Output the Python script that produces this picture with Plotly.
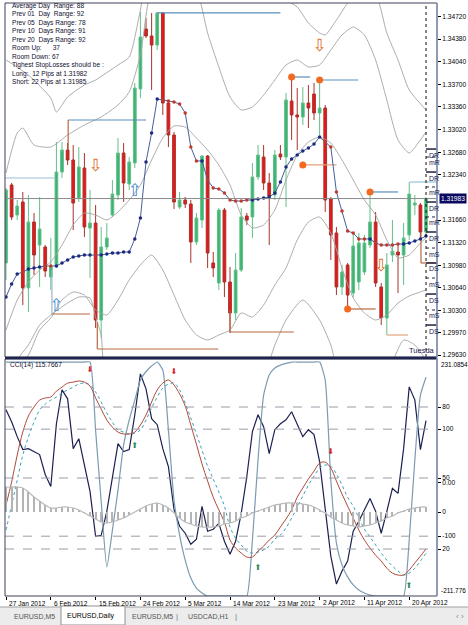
import plotly.graph_objects as go

# ---------------- data ----------------
tick_bars = [0, 8, 16, 24, 32, 40, 48, 56, 64, 72]
tick_labels = ["27 Jan 2012", "6 Feb 2012", "15 Feb 2012", "24 Feb 2012", "5 Mar 2012",
               "14 Mar 2012", "23 Mar 2012", "2 Apr 2012", "11 Apr 2012", "20 Apr 2012"]

opens = [1.31014, 1.32187, 1.31736, 1.31931, 1.30638, 1.31630, 1.31284, 1.31254, 1.30803, 1.30984,
         1.32382, 1.32713, 1.32563, 1.31991, 1.32442, 1.31540, 1.31615, 1.30156, 1.31254, 1.31736,
         1.32036, 1.32668, 1.32202, 1.32518, 1.33631, 1.34533, 1.34428, 1.34292, 1.34774, 1.33420,
         1.32939, 1.31856, 1.31961, 1.31901, 1.31330, 1.31660, 1.32623, 1.31014, 1.30713, 1.31811,
         1.30728, 1.30262, 1.30908, 1.31721, 1.31706, 1.32307, 1.32608, 1.32217, 1.32036, 1.32653,
         1.32608, 1.33450, 1.33240, 1.33210, 1.33420, 1.33555, 1.33270, 1.33345, 1.31976, 1.31465,
         1.30653, 1.30984, 1.30562, 1.30728, 1.30878, 1.31284, 1.31630, 1.30653, 1.30186, 1.31134,
         1.31179, 1.31134, 1.31435, 1.31886, 1.31886, 1.31480]
closes = [1.32112, 1.31706, 1.31871, 1.30638, 1.31630, 1.31134, 1.31525, 1.30893, 1.30954, 1.32382,
          1.32713, 1.32563, 1.31916, 1.32458, 1.31555, 1.31615, 1.30156, 1.31254, 1.31390, 1.32051,
          1.32668, 1.32217, 1.32533, 1.33646, 1.34413, 1.34428, 1.34292, 1.34774, 1.33420, 1.32939,
          1.31931, 1.31961, 1.31901, 1.31330, 1.31690, 1.32623, 1.31164, 1.30938, 1.31811, 1.30728,
          1.30262, 1.30908, 1.31706, 1.31660, 1.32307, 1.32638, 1.32217, 1.32021, 1.32638, 1.32608,
          1.33465, 1.33240, 1.33210, 1.33420, 1.33345, 1.33270, 1.33345, 1.31961, 1.31435, 1.30653,
          1.30878, 1.30532, 1.31269, 1.31314, 1.31314, 1.31630, 1.30713, 1.30186, 1.30984, 1.31194,
          1.31134, 1.31390, 1.32051, 1.31916, 1.31480, 1.31983]
highs = [1.32142, 1.32217, 1.31961, 1.32082, 1.32036, 1.31766, 1.32006, 1.31284, 1.31390, 1.32834,
         1.32834, 1.32818, 1.32788, 1.32758, 1.32668, 1.32112, 1.31886, 1.31555, 1.31615, 1.32262,
         1.32894, 1.32818, 1.32608, 1.33721, 1.34789, 1.34698, 1.34774, 1.34789, 1.34789, 1.33465,
         1.32984, 1.32082, 1.32006, 1.31961, 1.31766, 1.32638, 1.32638, 1.31179, 1.31841, 1.31841,
         1.30954, 1.31164, 1.31841, 1.31766, 1.32518, 1.32788, 1.32788, 1.32367, 1.32713, 1.32788,
         1.33570, 1.33796, 1.33646, 1.33661, 1.33691, 1.33721, 1.33766, 1.33390, 1.32006, 1.31555,
         1.30984, 1.31014, 1.31465, 1.31465, 1.31435, 1.32082, 1.31781, 1.30713, 1.31164, 1.31660,
         1.31284, 1.31615, 1.32232, 1.32036, 1.31916, 1.32006]
lows = [1.30758, 1.31660, 1.31660, 1.30382, 1.30277, 1.30833, 1.30653, 1.30803, 1.30608, 1.30938,
        1.32292, 1.32488, 1.31510, 1.31931, 1.31405, 1.30788, 1.30036, 1.29886, 1.31209, 1.31706,
        1.31961, 1.31931, 1.32112, 1.32442, 1.33495, 1.34398, 1.33616, 1.34217, 1.33240, 1.32758,
        1.31826, 1.31826, 1.31841, 1.31014, 1.31284, 1.31540, 1.30938, 1.30803, 1.30608, 1.30502,
        1.29961, 1.30156, 1.30878, 1.31585, 1.31390, 1.32262, 1.32112, 1.31284, 1.31961, 1.32563,
        1.31856, 1.32864, 1.32713, 1.33089, 1.33044, 1.33164, 1.32939, 1.31781, 1.31059, 1.30532,
        1.30532, 1.30307, 1.30502, 1.30608, 1.30833, 1.31239, 1.30653, 1.30081, 1.29931, 1.31029,
        1.30562, 1.30683, 1.31360, 1.31736, 1.31360, 1.31450]

ma_line = [1.30502, 1.30698, 1.30848, 1.30878, 1.30923, 1.30938, 1.30954, 1.30969, 1.30969, 1.30969,
           1.31014, 1.31059, 1.31104, 1.31119, 1.31134, 1.31134, 1.31134, 1.31134, 1.31149, 1.31164,
           1.31164, 1.31179, 1.31179, 1.31375, 1.31690, 1.32533, 1.32969, 1.33480, 1.33465, 1.33450,
           1.33435, 1.33405, 1.33270, 1.32758, 1.32548, 1.32548, 1.32262, 1.32142, 1.32127, 1.32066,
           1.31961, 1.31946, 1.31946, 1.31961, 1.31961, 1.31976, 1.31991, 1.32006, 1.32066, 1.32232,
           1.32458, 1.32578, 1.32638, 1.32698, 1.32743, 1.32803, 1.32909, 1.32834, 1.32758, 1.32082,
           1.31796, 1.31495, 1.31465, 1.31375, 1.31375, 1.31375, 1.31314, 1.31284, 1.31284, 1.31284,
           1.31299, 1.31299, 1.31314, 1.31345, 1.31375, 1.31420]

u2_bars = [0, 4, 8, 9, 11, 14, 16, 20, 22, 24, 26, 44, 48, 50, 52, 54, 56, 57, 59, 61, 63, 66, 68, 70, 72, 75]
u2_vals = [1.34067, 1.33841, 1.33495, 1.33285, 1.33510, 1.33691, 1.33766, 1.33992, 1.34112, 1.34819,
           1.35571, 1.35270, 1.35044, 1.34969, 1.34864, 1.34623, 1.34473, 1.34443, 1.34668, 1.34924,
           1.35120, 1.35044, 1.34473, 1.34067, 1.33616, 1.33315]
u1_bars = [0, 2, 3, 5, 8, 11, 14, 17, 20, 22, 24, 26, 30, 34, 36, 38, 40, 42, 44, 46, 48, 50, 52, 54,
           56, 58, 60, 62, 64, 66, 68, 70, 72, 74, 75]
u1_vals = [1.32367, 1.32969, 1.33044, 1.32788, 1.32758, 1.32939, 1.33089, 1.33210, 1.33390, 1.33586,
           1.34142, 1.35120, 1.35420, 1.35120, 1.34473, 1.33962, 1.33510, 1.33315, 1.33360, 1.33540,
           1.33766, 1.33992, 1.34067, 1.33962, 1.33992, 1.34217, 1.34443, 1.34563, 1.34443, 1.34067,
           1.33465, 1.32864, 1.32668, 1.32864, 1.32984]
mid_bars = [0, 2, 4, 6, 8, 10, 12, 14, 16, 18, 20, 22, 24, 26, 28, 30, 32, 34, 36, 38, 40, 42, 44, 46,
            48, 50, 52, 54, 56, 58, 60, 62, 64, 66, 68, 70, 72, 74, 75]
mid_vals = [1.30006, 1.30457, 1.30728, 1.30908, 1.31029, 1.31284, 1.31585, 1.31766, 1.31736, 1.31660,
            1.31781, 1.31961, 1.32187, 1.32563, 1.32894, 1.33074, 1.33059, 1.32894, 1.32713, 1.32488,
            1.32187, 1.31736, 1.31540, 1.31585, 1.31811, 1.32262, 1.32638, 1.32834, 1.32909, 1.32818,
            1.32563, 1.32262, 1.31961, 1.31736, 1.31360, 1.31089, 1.31134, 1.31314, 1.31390]
l1_bars = [0, 4, 6, 8, 10, 12, 14, 16, 18, 20, 22, 24, 26, 28, 30, 32, 34, 36, 38, 40, 42, 44, 46, 48,
           50, 52, 54, 56, 58, 60, 62, 64, 66, 68, 70, 72, 74, 75]
l1_vals = [1.29254, 1.29630, 1.30006, 1.30186, 1.30457, 1.30578, 1.30532, 1.30307, 1.30232, 1.30457,
           1.30758, 1.30984, 1.31134, 1.30908, 1.30532, 1.30156, 1.29931, 1.29856, 1.29931, 1.30006,
           1.30262, 1.30202, 1.30382, 1.30683, 1.30938, 1.31360, 1.31630, 1.31706, 1.31465, 1.30938,
           1.30487, 1.30262, 1.30156, 1.30232, 1.30412, 1.30517, 1.30578, 1.30608]
l2_bars = [0, 2, 4, 6, 8, 11, 13, 15, 16, 17, 18, 46, 48, 50, 53, 56, 58, 60, 68, 71, 73, 75]
l2_vals = [1.28953, 1.29555, 1.29780, 1.30081, 1.30232, 1.30412, 1.30502, 1.30487, 1.30202, 1.29931,
           1.29404, 1.29404, 1.29780, 1.30156, 1.30457, 1.30156, 1.29780, 1.29254, 1.29404, 1.29856,
           1.29780, 1.29555]

# support / resistance segments (bar from, bar to, price from, price to)
seg_x0 = [-0.3, 11.1, 27.0, 8.2, 16.3, 40.0, 51.0, 56.0, 53.0, 61.0, 65.0, 68.0, 72.1, 74.1, 11.1, 8.2, 16.3, 40.0, 74.1]
seg_x1 = [8.75, 25.0, 49.0, 15.0, 37.9, 51.4, 54.3, 62.9, 59.0, 66.0, 70.0, 71.8, 77.0, 77.0, 11.1, 8.2, 16.3, 40.0, 74.1]
seg_p0 = [1.32292, 1.33164, 1.34774, 1.30247, 1.29720, 1.29976, 1.33811, 1.33766, 1.32488, 1.30322,
          1.32082, 1.29931, 1.32232, 1.31014, 1.33164, 1.30908, 1.30126, 1.30307, 1.31480]
seg_p1 = [1.32292, 1.33164, 1.34774, 1.30247, 1.29720, 1.29976, 1.33811, 1.33766, 1.32488, 1.30322,
          1.32082, 1.29931, 1.32232, 1.31014, 1.32713, 1.30247, 1.29720, 1.29976, 1.31014]
seg_kind = ["r2", "r", "r", "s", "s", "s", "r", "r", "s2", "s", "r", "s2", "r2", "s", "s", "g", "s", "s", "s"]

dot_bars = [51, 56, 53, 61, 65]
dot_prices = [1.33811, 1.33766, 1.32488, 1.30322, 1.32082]
up_arrow_bars = [9, 23]
up_arrow_prices = [1.30352, 1.32082]
down_arrow_bars = [16, 56, 67]
down_arrow_prices = [1.32458, 1.34262, 1.30954]

pivot_prices = [1.32728, 1.32382, 1.31931, 1.31480, 1.31014, 1.30547, 1.30081,
                1.32608, 1.32157, 1.31706, 1.31239, 1.30788, 1.30307]
pivot_labels = ["DR", "DR", "DR", "DR", "DS", "DS", "DS", "mR", "mR", "mR", "mS", "mS", "mS"]
pivot_major = [True] * 7 + [False] * 6

price_ticks = [1.34720, 1.34380, 1.34040, 1.33700, 1.33360, 1.33020, 1.32680, 1.32340,
               1.31660, 1.31320, 1.30980, 1.30640, 1.30300, 1.29970, 1.29630]
price_tick_text = ["1.34720", "1.34380", "1.34040", "1.33700", "1.33360", "1.33020", "1.32680", "1.32340",
                   "1.31660", "1.31320", "1.30980", "1.30640", "1.30300", "1.29970", "1.29630"]
bid = 1.31983

info_lines = ["Average Day  Range: 88", "Prev 01  Day  Range: 92", "Prev 05  Days Range: 78",
              "Prev 10  Days Range: 91", "Prev 20  Days Range: 92", "Room Up:      37", "Room Down: 67",
              "Tighest StopLosses should be :", "Long:  12 Pips at 1.31982", "Short: 22 Pips at 1.31985"]

cci = [136.2, 113.9, 86.0, 61.8, 63.6, 58.0, 52.5, 15.2, -7.1, 110.1,
       173.4, 156.7, 63.6, 82.2, 30.1, -16.4, -100.1, -98.3, -53.6, 5.9,
       72.9, 58.0, 61.8, 126.9, 203.2, 175.3, 119.5, 108.3, 63.6, 30.1,
       -49.9, -81.5, -94.5, -115.0, -105.7, -44.3, -90.8, -87.1, -75.9, -109.4,
       -133.6, -109.4, -57.3, 11.5, 95.3, 126.9, 104.6, 54.3, 99.0, 110.1,
       117.6, 132.5, 110.1, 86.0, 99.0, 89.7, 39.4, -44.3, -137.3, -189.4,
       -165.3, -146.6, -90.8, -72.2, -49.9, -29.4, -53.6, -94.5, -53.6, -10.8,
       -20.1, 63.6, 179.0, 154.8, 61.8, 115.7667]
stoch_main = [38.6, 48.3, 59.7, 69.4, 76.2, 80.0, 82.9, 83.8, 84.2, 86.7,
              88.4, 90.1, 90.5, 91.0, 90.5, 88.8, 83.8, 79.1, 74.5, 71.5,
              69.4, 68.6, 68.6, 69.4, 72.4, 76.6, 82.1, 87.2, 90.1, 91.4,
              89.3, 85.5, 80.4, 72.4, 64.3, 55.9, 48.7, 41.9, 36.5, 31.4,
              23.8, 20.4, 18.3, 16.6, 16.6, 19.1, 21.2, 23.8, 25.9, 29.3,
              32.7, 36.5, 41.9, 45.8, 49.6, 52.9, 56.3, 56.7, 54.2, 48.7,
              43.2, 38.1, 33.1, 28.0, 23.8, 20.4, 17.4, 14.9, 11.9, 9.8,
              9.0, 9.0, 11.1, 14.1, 17.0, 20.0]
stoch_signal = [28.0, 38.6, 49.1, 59.7, 67.3, 73.6, 78.7, 81.2, 82.9, 84.2,
                85.9, 87.2, 88.4, 89.7, 90.1, 89.3, 86.3, 82.1, 77.4, 73.6,
                70.3, 69.4, 68.6, 69.0, 70.3, 74.5, 79.6, 84.2, 88.0, 89.7,
                90.1, 87.2, 81.7, 75.3, 68.6, 61.8, 55.0, 49.6, 44.1, 38.1,
                29.3, 24.6, 21.7, 19.1, 18.3, 18.7, 19.6, 21.2, 24.2, 25.9,
                28.9, 33.1, 37.7, 42.4, 47.0, 50.8, 54.2, 55.5, 55.0, 51.7,
                47.0, 41.9, 38.1, 33.1, 28.4, 25.1, 21.7, 18.3, 15.3, 12.8,
                10.7, 9.0, 9.8, 11.9, 14.9, 18.3]
trend_line = [99.0, 99.0, 99.0, 99.0, 99.0, 99.0, 99.0, 99.0, 99.0, 99.0,
              99.0, 99.0, 99.0, 99.0, 99.0, 99.0, 70.0, 40.0, 12.4, 28.0,
              44.9, 63.9, 74.5, 82.9, 91.4, 95.0, 97.3, 99.0, 95.6, 70.3,
              40.7, 25.9, 15.3, 7.7, 3.5, 1.4, 0.1, 0.1, 0.1, 0.1,
              0.1, 0.1, 0.1, 0.1, 23.8, 57.6, 85.0, 93.5, 96.5, 97.7,
              98.4, 99.0, 99.0, 99.0, 99.0, 99.0, 99.0, 91.4, 49.1, 22.5,
              13.2, 8.2, 4.8, 2.7, 1.4, 0.5, 0.1, 0.1, 0.1, 0.1,
              0.1, 0.1, 23.8, 57.6, 85.0, 92.6]
osma = [25, 25, 25, 24, 20, 15, 11, 7, 4, 4,
        5, 5, 4, 2, -1, -4, -7, -10, -11, -10,
        -8, -6, -3, 0, 3, 6, 8, 9, 7, 4,
        -1, -6, -10, -12, -14, -15, -15, -15, -14, -12,
        -11, -9, -6, -4, -1, 1, 3, 5, 7, 8,
        9, 9, 9, 8, 7, 5, 2, -1, -5, -8,
        -11, -13, -14, -15, -14, -13, -11, -9, -6, -4,
        -1, 1, 3, 4, 5, 5]
sig_down_bars = [15, 30, 58]
sig_down_vals = [95.6, 94.8, 61.0]
sig_up_bars = [23, 45, 72]
sig_up_vals = [63.5, 12.0, 4.4]
cci_label = "CCI(14) 115.7667"

tabs = ["EURUSD,M5", "EURUSD,Daily", "EURUSD,M5", "USDCAD,H1"]

# ---------------- layout helpers ----------------
W, H = 468, 625
L, R, T, B = 5, 31, 3, 29
PW, PH = W - L - R, H - T - B
TOP_BOTTOM_PX = 357
BOT_TOP_PX = 359


def fx(px):
    return (px - L) / PW


def fy(py):
    return (H - B - py) / PH


FONT = "Liberation Sans, Arial, sans-serif"
bars = list(range(len(closes)))
xr = [-0.18, 76.96]

fig = go.Figure()

# bands
for bx, by in [(u2_bars, u2_vals), (u1_bars, u1_vals), (mid_bars, mid_vals), (l1_bars, l1_vals), (l2_bars, l2_vals)]:
    fig.add_trace(go.Scatter(x=bx, y=by, mode="lines", line=dict(color="#a4a4a4", width=0.9, shape="spline", smoothing=0.6),
                             xaxis="x", yaxis="y", hoverinfo="skip"))

# candles
fig.add_trace(go.Candlestick(x=bars, open=opens, high=highs, low=lows, close=closes,
                             increasing=dict(fillcolor="#3cb371", line=dict(color="#62c08a", width=1)),
                             decreasing=dict(fillcolor="#e8171c", line=dict(color="#a8322a", width=1)),
                             whiskerwidth=0, xaxis="x", yaxis="y"))

# segments
kind_color = {"r": "#5b8db8", "r2": "#98bfdc", "s": "#b8683e", "s2": "#e2a47a", "g": "#9bb7cc"}
for k, c in kind_color.items():
    xs, ys = [], []
    for a, b, p, q, kk in zip(seg_x0, seg_x1, seg_p0, seg_p1, seg_kind):
        if kk == k:
            xs += [a, b, None]
            ys += [p, q, None]
    fig.add_trace(go.Scatter(x=xs, y=ys, mode="lines", line=dict(color=c, width=1.2), xaxis="x", yaxis="y",
                             hoverinfo="skip"))

# moving average with dots
ma_colors = ["#1c2a80" if m < c else "#c0392b" for m, c in zip(ma_line, closes)]
fig.add_trace(go.Scatter(x=bars, y=ma_line, mode="lines+markers", line=dict(color="#44609a", width=1),
                         marker=dict(size=3.5, color=ma_colors), xaxis="x", yaxis="y"))

fig.add_trace(go.Scatter(x=dot_bars, y=dot_prices, mode="markers", marker=dict(size=7, color="#f26a22"),
                         xaxis="x", yaxis="y"))
# block arrows as glyphs
fig.add_trace(go.Scatter(x=up_arrow_bars, y=up_arrow_prices, mode="text", text=["\u21e7"] * len(up_arrow_bars),
                         textfont=dict(family="DejaVu Sans", size=17, color="#3f8cd0"), xaxis="x", yaxis="y"))
fig.add_trace(go.Scatter(x=down_arrow_bars, y=down_arrow_prices, mode="text", text=["\u21e9"] * len(down_arrow_bars),
                         textfont=dict(family="DejaVu Sans", size=17, color="#e0702a"), xaxis="x", yaxis="y"))

# ---------------- bottom panel ----------------
fig.add_trace(go.Bar(x=bars, y=osma, width=0.18, marker=dict(color="#b4b4b4", line=dict(width=0)),
                     xaxis="x2", yaxis="y4"))
fig.add_trace(go.Scatter(x=bars, y=osma, mode="lines", line=dict(color="#b8b8b8", width=1.2, shape="spline"),
                         xaxis="x2", yaxis="y4"))
fig.add_trace(go.Scatter(x=bars, y=trend_line, mode="lines", line=dict(color="#7b9bb0", width=1.2, shape="spline", smoothing=0.5),
                         xaxis="x2", yaxis="y3"))
fig.add_trace(go.Scatter(x=bars, y=stoch_signal, mode="lines", line=dict(color="#3aa0b8", width=1, dash="dot", shape="spline"),
                         xaxis="x2", yaxis="y3"))
fig.add_trace(go.Scatter(x=bars, y=stoch_main, mode="lines", line=dict(color="#b04a3a", width=1, shape="spline"),
                         xaxis="x2", yaxis="y3"))
fig.add_trace(go.Scatter(x=bars, y=cci, mode="lines", line=dict(color="#1c2050", width=1.2),
                         xaxis="x2", yaxis="y2"))
fig.add_trace(go.Scatter(x=sig_down_bars, y=sig_down_vals, mode="text", text=["\u2b07"] * len(sig_down_bars),
                         textfont=dict(family="DejaVu Sans", size=8, color="#e02020"), xaxis="x2", yaxis="y3"))
fig.add_trace(go.Scatter(x=sig_up_bars, y=sig_up_vals, mode="text", text=["\u2b06"] * len(sig_up_bars),
                         textfont=dict(family="DejaVu Sans", size=8, color="#2e8b57"), xaxis="x2", yaxis="y3"))

shapes = []
# bid line
shapes.append(dict(type="line", xref="paper", x0=0, x1=1, yref="y", y0=bid, y1=bid, line=dict(color="#8a8a8a", width=1)))
# period separator
shapes.append(dict(type="line", xref="x", x0=75, x1=75, yref="paper", y0=fy(TOP_BOTTOM_PX), y1=1,
                   line=dict(color="#101010", width=1, dash="dot")))
# pivot marks
for p, lab, major in zip(pivot_prices, pivot_labels, pivot_major):
    shapes.append(dict(type="line", xref="x", x0=75, x1=xr[1], yref="y", y0=p, y1=p,
                       line=dict(color="#202040", width=1.5 if major else 1, dash="solid" if major else "dot")))
# bottom panel dashed levels
for v in [100, -100]:
    shapes.append(dict(type="line", xref="paper", x0=0, x1=1, yref="y2", y0=v, y1=v,
                       line=dict(color="#9a9aa8", width=1, dash="dash")))
for v in [80, 50, 20]:
    shapes.append(dict(type="line", xref="paper", x0=0, x1=1, yref="y3", y0=v, y1=v,
                       line=dict(color="#9a9aa8", width=1, dash="dash")))
# frames
shapes.append(dict(type="rect", xref="paper", yref="paper", x0=0, x1=1, y0=fy(TOP_BOTTOM_PX), y1=fy(T),
                   line=dict(color="#404058", width=1)))
shapes.append(dict(type="rect", xref="paper", yref="paper", x0=0, x1=1, y0=0, y1=fy(BOT_TOP_PX),
                   line=dict(color="#404058", width=1)))
shapes.append(dict(type="line", xref="paper", yref="paper", x0=0, x1=1, y0=fy(358), y1=fy(358),
                   line=dict(color="#1e2450", width=2.5)))
shapes.append(dict(type="line", xref="paper", yref="paper", x0=1, x1=1, y0=0, y1=1,
                   line=dict(color="#8c98b8", width=1.5)))
# tab bar
shapes.append(dict(type="rect", xref="paper", yref="paper", x0=fx(0), x1=fx(W), y0=fy(H), y1=fy(607),
                   fillcolor="#ececec", line=dict(width=0), layer="above"))
shapes.append(dict(type="line", xref="paper", yref="paper", x0=fx(0), x1=fx(W), y0=fy(607), y1=fy(607),
                   line=dict(color="#a0a0a0", width=1), layer="above"))
shapes.append(dict(type="rect", xref="paper", yref="paper", x0=fx(61), x1=fx(125), y0=fy(H), y1=fy(606),
                   fillcolor="#ffffff", line=dict(color="#909090", width=1), layer="above"))

ann = []
for i, line in enumerate(info_lines):
    ann.append(dict(xref="paper", yref="paper", x=fx(10), y=fy(6 + 8.45 * i), xanchor="left", yanchor="middle",
                    text=line.replace("  ", "\u00a0\u00a0"), showarrow=False,
                    font=dict(family=FONT, size=6.6, color="#101030")))
ann.append(dict(xref="paper", yref="paper", x=fx(8), y=fy(365), xanchor="left", yanchor="middle", text=cci_label,
                showarrow=False, font=dict(family=FONT, size=6.6, color="#101030")))
ann.append(dict(xref="paper", yref="y", x=1, y=bid, xanchor="left", yanchor="middle", xshift=2,
                text=f"{bid:.5f}", showarrow=False, bgcolor="#0a0a60", borderpad=1,
                font=dict(family=FONT, size=6.6, color="#ffffff")))
ann.append(dict(xref="paper", yref="paper", x=1, y=fy(351), xanchor="right", yanchor="middle", text="Tuesda",
                showarrow=False, font=dict(family=FONT, size=7.5, color="#1a1a50")))
for p, lab in zip(pivot_prices, pivot_labels):
    ann.append(dict(xref="x", yref="y", x=75, y=p, xanchor="left", yanchor="top", xshift=1, yshift=-0.5,
                    text=lab, showarrow=False, font=dict(family=FONT, size=7, color="#1a1a50")))
ann.append(dict(xref="paper", yref="paper", x=1, y=fy(364), xanchor="left", yanchor="middle", xshift=2,
                text="231.0854", showarrow=False, font=dict(family=FONT, size=6.4, color="#000000")))
ann.append(dict(xref="paper", yref="paper", x=1, y=fy(590), xanchor="left", yanchor="middle", xshift=2,
                text="-211.776", showarrow=False, font=dict(family=FONT, size=6.4, color="#000000")))
for b, lab in zip(tick_bars, tick_labels):
    ann.append(dict(xref="x2", yref="paper", x=b, y=fy(603), xanchor="left", yanchor="middle", xshift=1,
                    text=lab, showarrow=False, font=dict(family=FONT, size=6.6, color="#000000")))
tab_x = [12, 65, 130, 186]
for tx, t in zip(tab_x, tabs):
    ann.append(dict(xref="paper", yref="paper", x=fx(tx), y=fy(616), xanchor="left", yanchor="middle", text=t,
                    showarrow=False, font=dict(family=FONT, size=7, color="#000000" if t == "EURUSD,Daily" else "#555555")))
for sx in [177, 236]:
    ann.append(dict(xref="paper", yref="paper", x=fx(sx), y=fy(616), xanchor="center", yanchor="middle", text="|",
                    showarrow=False, font=dict(family=FONT, size=8, color="#777777")))
ann.append(dict(xref="paper", yref="paper", x=fx(460), y=fy(616), xanchor="center", yanchor="middle",
                text="\u2039\u00a0\u203a", showarrow=False, font=dict(family=FONT, size=8, color="#888888")))

axfont = dict(family=FONT, size=6.6, color="#000000")
fig.update_layout(
    width=W, height=H, margin=dict(l=L, r=R, t=T, b=B), paper_bgcolor="#ffffff", plot_bgcolor="#ffffff",
    showlegend=False, hovermode=False, bargap=0,
    xaxis=dict(domain=[0, 1], range=xr, anchor="y", showticklabels=False, showgrid=False, zeroline=False,
               rangeslider=dict(visible=False), ticks=""),
    yaxis=dict(domain=[fy(TOP_BOTTOM_PX), 1], range=[1.29600, 1.34924], side="right", anchor="x",
               tickvals=price_ticks, ticktext=price_tick_text, tickfont=axfont, ticks="outside", ticklen=3,
               tickcolor="#000000", showgrid=False, zeroline=False),
    xaxis2=dict(domain=[0, 1], range=xr, anchor="y2", tickvals=tick_bars, ticktext=[""] * len(tick_bars),
                ticks="outside", ticklen=3, tickcolor="#000000", showgrid=False, zeroline=False),
    yaxis2=dict(domain=[0, fy(BOT_TOP_PX)], range=[-211.776, 231.0854], side="right", anchor="x2",
                tickvals=[100, 0, -100], ticktext=["100", "0.00", "-100"], tickfont=axfont, ticks="outside",
                ticklen=3, tickcolor="#000000", showgrid=False, zeroline=False),
    yaxis3=dict(overlaying="y2", range=[0.14, 100.28], side="right", anchor="x2", tickvals=[80, 50, 20],
                ticktext=["80", "50", "20"], tickfont=axfont, ticks="outside", ticklen=3, tickcolor="#000000",
                showgrid=False, zeroline=False),
    yaxis4=dict(overlaying="y2", range=[-84, 153], side="right", anchor="x2", tickvals=[0], ticktext=["0"],
                tickfont=axfont, ticks="outside", ticklen=3, tickcolor="#000000", showgrid=False, zeroline=False),
    shapes=shapes, annotations=ann,
)

fig.write_html("out.html")
